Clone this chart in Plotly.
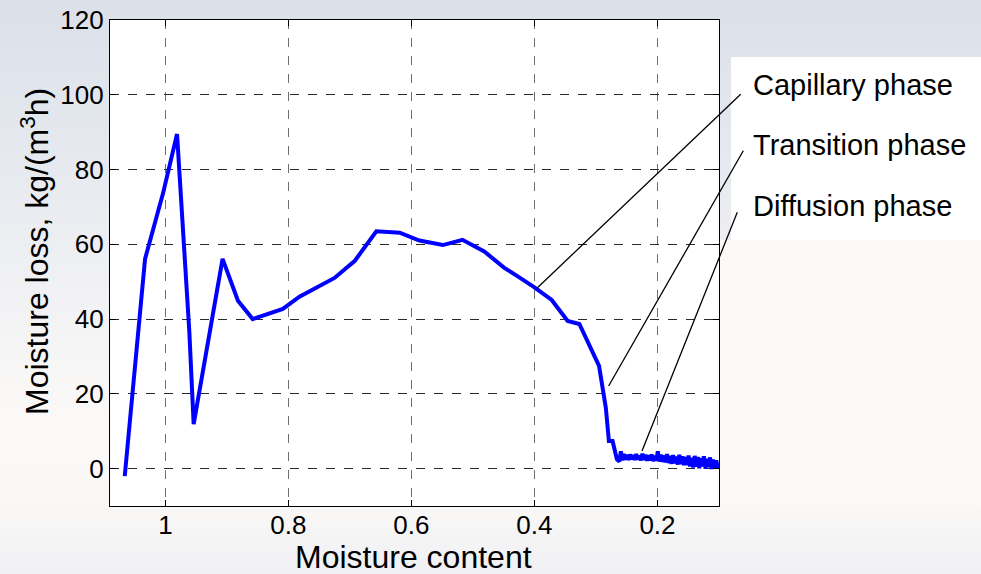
import base64
import plotly.graph_objects as go

# Drying curve: moisture loss rate vs. moisture content (dry basis)
moisture_main = [1.066, 1.033, 1.004, 0.981, 0.961, 0.954, 0.907, 0.882, 0.858,
                 0.809, 0.782, 0.755, 0.725, 0.692, 0.657, 0.619, 0.587, 0.549,
                 0.517, 0.481, 0.449, 0.424, 0.400, 0.372, 0.346, 0.327, 0.295,
                 0.284, 0.279, 0.273, 0.269, 0.266]
loss_main = [-2.0, 56.1, 73.5, 89.5, 36.5, 11.9, 56.1, 44.9, 40.0,
             42.7, 46.0, 48.5, 51.0, 55.6, 63.5, 63.1, 61.0, 59.8,
             61.2, 58.0, 53.7, 51.1, 48.5, 45.1, 39.5, 38.7, 27.5,
             16.3, 7.4, 7.4, 4.0, 2.5]

# Diffusion-phase tail (noisy measurements)
moisture_tail = [0.2620, 0.2595, 0.2570, 0.2545, 0.2520, 0.2495, 0.2470, 0.2445, 0.2420, 0.2395,
                 0.2370, 0.2345, 0.2320, 0.2295, 0.2270, 0.2245, 0.2220, 0.2195, 0.2170, 0.2145,
                 0.2120, 0.2095, 0.2070, 0.2045, 0.2020, 0.1995, 0.1970, 0.1945, 0.1920, 0.1895,
                 0.1870, 0.1845, 0.1820, 0.1795, 0.1770, 0.1745, 0.1720, 0.1695, 0.1670, 0.1645,
                 0.1620, 0.1595, 0.1570, 0.1545, 0.1520, 0.1495, 0.1470, 0.1445, 0.1420, 0.1395,
                 0.1370, 0.1345, 0.1320, 0.1295, 0.1270, 0.1245, 0.1220, 0.1195, 0.1170, 0.1145,
                 0.1120, 0.1095, 0.1070, 0.1045, 0.1020, 0.1000]
loss_tail = [1.9, 4.6, 2.2, 3.9, 2.4, 3.7, 2.3, 3.8, 2.5, 3.6,
             2.3, 3.9, 2.4, 3.5, 2.2, 4.0, 2.3, 3.7, 2.1, 3.6,
             2.2, 3.8, 2.0, 3.4, 2.1, 4.6, 1.9, 3.7, 1.8, 3.5,
             1.7, 3.9, 1.5, 3.4, 1.3, 3.6, 1.4, 3.2, 1.1, 3.7,
             1.2, 3.3, 0.9, 3.1, 0.9, 3.5, 0.6, 2.9, 0.3, 3.4,
             0.5, 3.1, 0.1, 2.8, 0.6, 3.3, 0.0, 2.6, 0.4, 3.0,
             -0.1, 2.4, 0.1, 2.2, 0.2, 1.3]

x_ticks = [1.0, 0.8, 0.6, 0.4, 0.2]
x_tick_labels = ["1", "0.8", "0.6", "0.4", "0.2"]
y_ticks = [0, 20, 40, 60, 80, 100, 120]
y_tick_labels = ["0", "20", "40", "60", "80", "100", "120"]

phase_labels = ["Capillary phase", "Transition phase", "Diffusion phase"]
# point on the curve each callout refers to
phase_points_x = [0.3964, 0.2794, 0.2252]
phase_points_y = [48.2, 22.1, 4.7]

moisture = moisture_main + moisture_tail
loss = loss_main + loss_tail

W, H = 981, 574
ML, MR, MT, MB = 110, 262, 20, 68
PW, PH = W - ML - MR, H - MT - MB
X_RANGE = [1.09, 0.10]
Y_RANGE = [-10, 120]
FONT = "Liberation Sans, Arial, sans-serif"


def px_x(px):
    return (px - ML) / PW


def px_y(py):
    return (H - MB - py) / PH


def data_x(x):
    return (X_RANGE[0] - x) / (X_RANGE[0] - X_RANGE[1])


def data_y(y):
    return (y - Y_RANGE[0]) / (Y_RANGE[1] - Y_RANGE[0])


fig = go.Figure()
fig.add_trace(go.Scatter(
    x=moisture, y=loss, mode="lines",
    line=dict(color="#0000ff", width=4),
    showlegend=False, hoverinfo="x+y",
))

# slide-style background gradient
svg = (
    '<svg xmlns="http://www.w3.org/2000/svg" width="981" height="574">'
    '<defs><linearGradient id="g" x1="0" y1="0" x2="0" y2="1">'
    '<stop offset="0" stop-color="#dbe0e9"/>'
    '<stop offset="0.28" stop-color="#e6e9ef"/>'
    '<stop offset="0.55" stop-color="#f3f3f5"/>'
    '<stop offset="0.75" stop-color="#fcfaf7"/>'
    '<stop offset="0.9" stop-color="#f8f7f6"/>'
    '<stop offset="1" stop-color="#f0eff3"/>'
    '</linearGradient></defs>'
    '<rect width="981" height="574" fill="url(#g)"/></svg>'
)
bg_src = "data:image/svg+xml;base64," + base64.b64encode(svg.encode()).decode()

shapes = [
    # plot area
    dict(type="rect", xref="paper", yref="paper", x0=0, x1=1, y0=0, y1=1,
         fillcolor="white", line=dict(width=0), layer="below"),
    # text box behind the phase labels
    dict(type="rect", xref="paper", yref="paper",
         x0=px_x(731), x1=px_x(981), y0=px_y(240), y1=px_y(57),
         fillcolor="#ffffff", line=dict(width=0), layer="below"),
    dict(type="rect", xref="paper", yref="paper",
         x0=px_x(719), x1=px_x(981), y0=px_y(505), y1=px_y(240),
         fillcolor="#fcfaf7", line=dict(width=0), layer="below"),
]

# callout lines from the labels to the curve
callout_ends = [(740.7, 94.3), (743.3, 150.7), (737.3, 212.3)]
label_y = [85, 145, 206]
annotations = []
for name, cx, cy, (ex, ey), ly in zip(phase_labels, phase_points_x, phase_points_y,
                                      callout_ends, label_y):
    shapes.append(dict(type="line", xref="paper", yref="paper",
                       x0=data_x(cx), y0=data_y(cy), x1=px_x(ex), y1=px_y(ey),
                       line=dict(color="black", width=1.3)))
    annotations.append(dict(text=name, xref="paper", yref="paper",
                            x=px_x(751), y=px_y(ly), xanchor="left", yanchor="middle",
                            showarrow=False, font=dict(family=FONT, size=29, color="black")))

annotations.append(dict(text="Moisture loss, kg/(m<sup>3</sup>h)", xref="paper", yref="paper",
                        x=px_x(35), y=px_y(252), textangle=-90, xanchor="center",
                        yanchor="middle", showarrow=False,
                        font=dict(family=FONT, size=32, color="black")))
annotations.append(dict(text="Moisture content", xref="paper", yref="paper",
                        x=px_x(413), y=px_y(557), xanchor="center", yanchor="middle",
                        showarrow=False, font=dict(family=FONT, size=32, color="black")))

axis_common = dict(
    showline=True, linecolor="black", linewidth=1.2, mirror="ticks",
    ticks="inside", ticklen=6, tickcolor="black", tickwidth=1,
    showgrid=True, griddash="dash", gridwidth=1, zeroline=False,
    automargin=False,
    tickfont=dict(family=FONT, size=26, color="black"),
)

fig.update_layout(
    width=W, height=H,
    margin=dict(l=ML, r=MR, t=MT, b=MB, pad=0, autoexpand=False),
    paper_bgcolor="rgba(0,0,0,0)",
    plot_bgcolor="white",
    xaxis=dict(range=X_RANGE, tickvals=x_ticks, ticktext=x_tick_labels,
               gridcolor="#6e6e6e", ticklabelstandoff=-4, **axis_common),
    yaxis=dict(range=Y_RANGE, tickvals=y_ticks, ticktext=y_tick_labels,
               gridcolor="#2a2a2a", **axis_common),
    images=[dict(source=bg_src, xref="paper", yref="paper",
                 x=-ML / PW, y=1 + MT / PH, sizex=W / PW, sizey=H / PH,
                 xanchor="left", yanchor="top", sizing="stretch", layer="below")],
    shapes=shapes,
    annotations=annotations,
    font=dict(family=FONT, color="black"),
)

fig.write_html("out.html")
